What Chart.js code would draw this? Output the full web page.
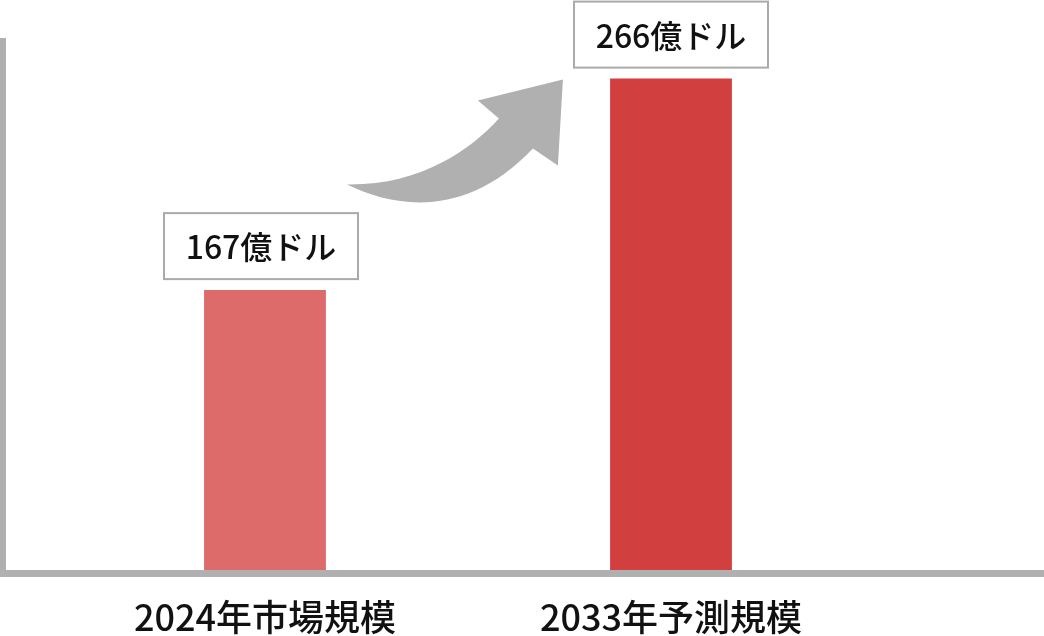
<!DOCTYPE html>
<html lang="ja">
<head>
<meta charset="utf-8">
<script src="https://cdn.jsdelivr.net/npm/chart.js@4/dist/chart.umd.min.js"></script>
<style>
  html, body { margin: 0; padding: 0; background: #fff; }
  #wrap { width: 1044px; height: 636px; position: relative; }
</style>
</head>
<body>
<div id="wrap"><canvas id="marketChart"></canvas></div>
<script>
// chart data
const categories = ['2024年市場規模', '2033年予測規模'];
const marketValues = [167, 266];
const valueLabels = ['167億ドル', '266億ドル'];
const barColors = ['#dc6b6a', '#d13f3f'];

const axisGray = '#b0b0b0';
const fontFamily = '"Noto Sans CJK JP", "Noto Sans", sans-serif';

// axis lines running to the canvas edges
const axisLinesPlugin = {
    id: 'axisLines',
    afterDatasetsDraw(chart) {
        const { ctx, chartArea, width } = chart;
        ctx.save();
        ctx.fillStyle = axisGray;
        ctx.fillRect(0, chartArea.top, 6, chartArea.bottom - chartArea.top + 7);
        ctx.fillRect(0, chartArea.bottom, width, 7);
        ctx.restore();
    }
};

// boxed value labels above each bar
const valueBoxPlugin = {
    id: 'valueBoxes',
    afterDatasetsDraw(chart) {
        const { ctx } = chart;
        const bars = chart.getDatasetMeta(0).data;
        ctx.save();
        bars.forEach((bar, i) => {
            const w = 194, h = 66;
            const left = bar.x - w / 2 - (i === 0 ? 4 : 0);
            const top = bar.y - 11 - h;
            ctx.fillStyle = '#fff';
            ctx.fillRect(left, top, w, h);
            ctx.strokeStyle = '#aaaaaa';
            ctx.lineWidth = 2;
            ctx.strokeRect(left, top, w, h);
            ctx.fillStyle = '#111';
            ctx.font = '500 32px ' + fontFamily;
            ctx.textAlign = 'center';
            ctx.textBaseline = 'middle';
            ctx.fillText(valueLabels[i], left + w / 2, top + h / 2 + 1);
        });
        ctx.restore();
    }
};

// curved growth arrow between the bars
const arrowPlugin = {
    id: 'growthArrow',
    afterDatasetsDraw(chart) {
        const { ctx } = chart;
        const bars = chart.getDatasetMeta(0).data;
        if (bars.length < 2) return;
        const ox = bars[0].x + bars[0].width / 2;   // right edge of first bar
        const oy = bars[1].y;                        // top of second bar
        const p = (dx, dy) => [ox + dx, oy + dy];
        ctx.save();
        ctx.fillStyle = axisGray;
        ctx.beginPath();
        ctx.moveTo(...p(21, 106));
        ctx.bezierCurveTo(...p(74, 132), ...p(144, 137), ...p(207, 70));
        ctx.lineTo(...p(232, 87));
        ctx.lineTo(...p(237, 1));
        ctx.lineTo(...p(152, 22));
        ctx.lineTo(...p(173, 40));
        ctx.bezierCurveTo(...p(144, 72), ...p(94, 107), ...p(21, 106));
        ctx.closePath();
        ctx.fill();
        ctx.restore();
    }
};

const ctx = document.getElementById('marketChart').getContext('2d');
new Chart(ctx, {
    type: 'bar',
    data: {
        labels: categories,
        datasets: [{
            data: marketValues,
            backgroundColor: barColors,
            borderWidth: 0,
            categoryPercentage: 1,
            barPercentage: 0.3
        }]
    },
    options: {
        responsive: true,
        maintainAspectRatio: false,
        animation: false,
        layout: { padding: { top: 38, left: 62, right: 170, bottom: 0 } },
        scales: {
            x: {
                grid: { display: false, drawTicks: false },
                border: { display: false },
                ticks: {
                    color: '#111',
                    padding: 26,
                    font: { family: fontFamily, size: 36, weight: '500' }
                },
                afterFit(scale) { scale.height = 66; }
            },
            y: {
                display: false,
                min: 36,
                max: 285
            }
        },
        plugins: {
            legend: { display: false },
            tooltip: { enabled: false }
        }
    },
    plugins: [arrowPlugin, axisLinesPlugin, valueBoxPlugin]
});
</script>
</body>
</html>
